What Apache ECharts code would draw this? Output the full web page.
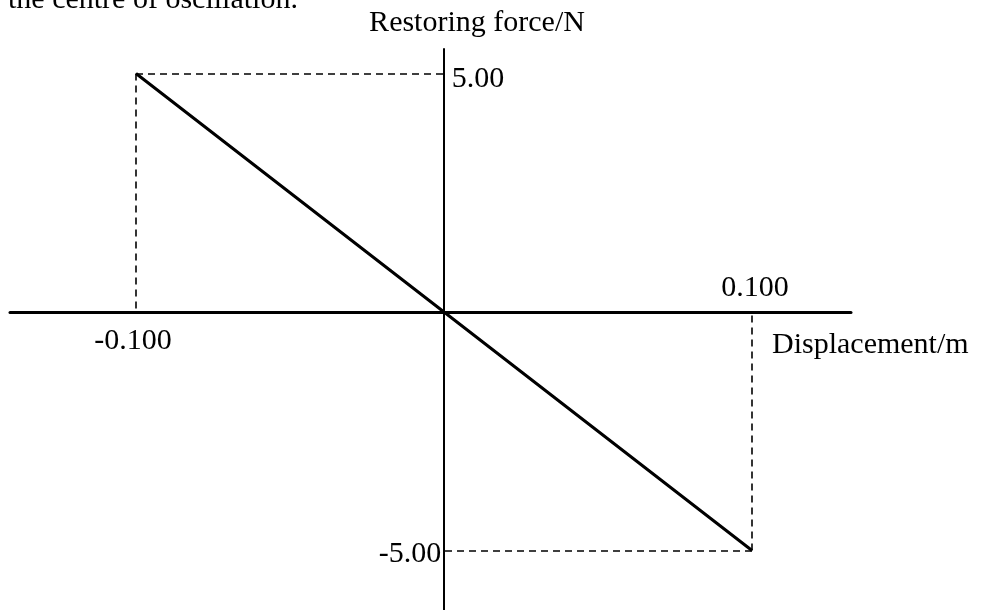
<!DOCTYPE html>
<html>
<head>
<meta charset="utf-8">
<title>Restoring force against displacement</title>
<script src="https://cdn.jsdelivr.net/npm/echarts@6/dist/echarts.min.js"></script>
<style>
  html, body { margin: 0; padding: 0; background: #ffffff; }
  #chart { width: 986px; height: 610px; }
</style>
</head>
<body>
<div id="chart"></div>
<script>
// Oscillator: restoring force is proportional to displacement and opposite in sign.
const displacement = [-0.1, 0, 0.1];      // m
const force = [5.0, 0, -5.0];             // N
const xMarkLabels = ['-0.100', '0.100'];  // labels at the displacement extremes
const yMarkLabels = ['5.00', '-5.00'];    // labels at the force extremes

const FONT = '"Liberation Serif", "Times New Roman", serif';
const INK = '#000000';

const points = displacement.map((x, i) => [x, force[i]]);
const first = points[0];
const last = points[points.length - 1];

// Dashed guides from each extreme point back to both axes
const guides = [first, last].flatMap(p => [
  { coords: [[p[0], p[1]], [0, p[1]]] },
  { coords: [[p[0], p[1]], [p[0], 0]] }
]);

function markLabel(value, text, dx, dy) {
  return {
    value: value,
    label: {
      show: true,
      formatter: text,
      position: 'inside',
      align: 'center',
      verticalAlign: 'middle',
      offset: [dx, dy],
      color: INK,
      fontFamily: FONT,
      fontSize: 30
    }
  };
}

const labelPoints = [
  markLabel([0, first[1]], yMarkLabels[0], 34, 6),
  markLabel([0, last[1]], yMarkLabels[1], -34, 4),
  markLabel([first[0], 0], xMarkLabels[0], -3, 29),
  markLabel([last[0], 0], xMarkLabels[1], 3, -24)
];

const chart = echarts.init(document.getElementById('chart'), null, { renderer: 'canvas' });

chart.setOption({
  backgroundColor: '#ffffff',
  animation: false,
  title: {
    text: 'the centre of oscillation.',
    left: 8,
    top: -15,
    padding: 0,
    textStyle: { color: INK, fontFamily: FONT, fontSize: 30, fontWeight: 'normal' }
  },
  grid: { left: 10, right: 135, top: 49, bottom: 0, outerBoundsMode: 'none' },
  xAxis: {
    type: 'value',
    min: -0.14091,
    max: 0.13214,
    name: 'Displacement/m',
    nameLocation: 'end',
    nameGap: -79,
    nameTextStyle: {
      color: INK, fontFamily: FONT, fontSize: 30,
      align: 'left', verticalAlign: 'top', lineHeight: 66
    },
    axisLine: { show: true, onZero: true, lineStyle: { color: INK, width: 3 } },
    axisTick: { show: false },
    axisLabel: { show: false },
    splitLine: { show: false }
  },
  yAxis: {
    type: 'value',
    min: -6.2474,
    max: 5.5136,
    name: 'Restoring force/N',
    nameLocation: 'end',
    nameGap: 26,
    nameTextStyle: {
      color: INK, fontFamily: FONT, fontSize: 30,
      align: 'center', verticalAlign: 'middle', padding: [0, 0, 0, 66]
    },
    axisLine: { show: true, onZero: true, lineStyle: { color: INK, width: 2 } },
    axisTick: { show: false },
    axisLabel: { show: false },
    splitLine: { show: false }
  },
  series: [
    {
      type: 'lines',
      coordinateSystem: 'cartesian2d',
      silent: true,
      lineStyle: { color: INK, width: 1.6, type: [7, 5], opacity: 1, curveness: 0 },
      data: guides,
      z: 2
    },
    {
      type: 'line',
      data: points,
      symbol: 'none',
      lineStyle: { color: INK, width: 3 },
      z: 3
    },
    {
      type: 'scatter',
      data: labelPoints,
      symbolSize: 0,
      itemStyle: { opacity: 1, color: INK },
      silent: true,
      z: 4
    }
  ]
});
</script>
</body>
</html>
